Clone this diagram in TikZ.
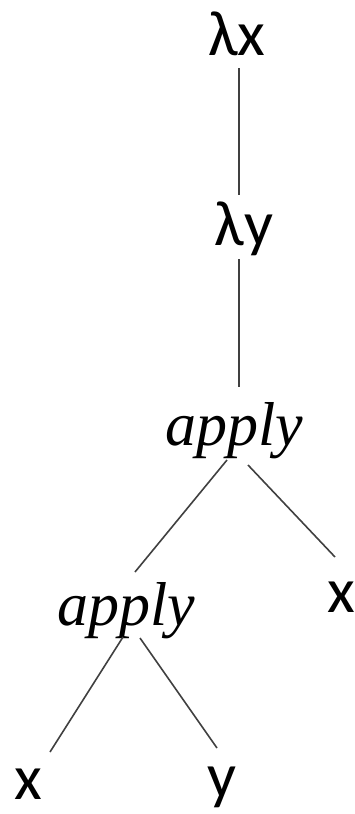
\documentclass[tikz,border=0pt]{standalone}
\usepackage{fontspec}
\setmainfont{Carlito}
\newfontfamily\applyfont{Liberation Serif}
\usetikzlibrary{calc}
\tikzset{
  lbl/.style={inner sep=0pt, anchor=base, font=\fontsize{64}{70}\selectfont},
  apl/.style={inner sep=0pt, anchor=base, font=\applyfont\itshape\fontsize{62}{70}\selectfont},
  edge/.style={line width=1.6pt, draw=black!75}
}
\begin{document}
\begin{tikzpicture}[x=1pt,y=-1pt]
\useasboundingbox (0,0) rectangle (355,814);
\node[lbl] (lx) at (237,55) {λx};
\node[lbl] (ly) at (244,245) {λy};
\node[apl] (ap1) at (234,445) {apply};
\node[lbl] (xr) at (341,612) {x};
\node[apl] (ap2) at (126,625) {apply};
\node[lbl] (xb) at (28,799) {x};
\node[lbl] (yb) at (222,797) {y};
\draw[edge] ($(lx.base)+(2,13)$) -- ($(ly.base)+(-5,-50)$);
\draw[edge] ($(ly.base)+(-5,14)$) -- ($(ap1.base)+(5,-58)$);
\draw[edge] ($(ap1.base)+(-7,15)$) -- ($(ap2.base)+(9,-53)$);
\draw[edge] ($(ap1.base)+(14,20)$) -- ($(xr.base)+(-6,-55)$);
\draw[edge] ($(ap2.base)+(-3,12)$) -- ($(xb.base)+(22,-47)$);
\draw[edge] ($(ap2.base)+(14,13)$) -- ($(yb.base)+(-5,-49)$);
\end{tikzpicture}
\end{document}
